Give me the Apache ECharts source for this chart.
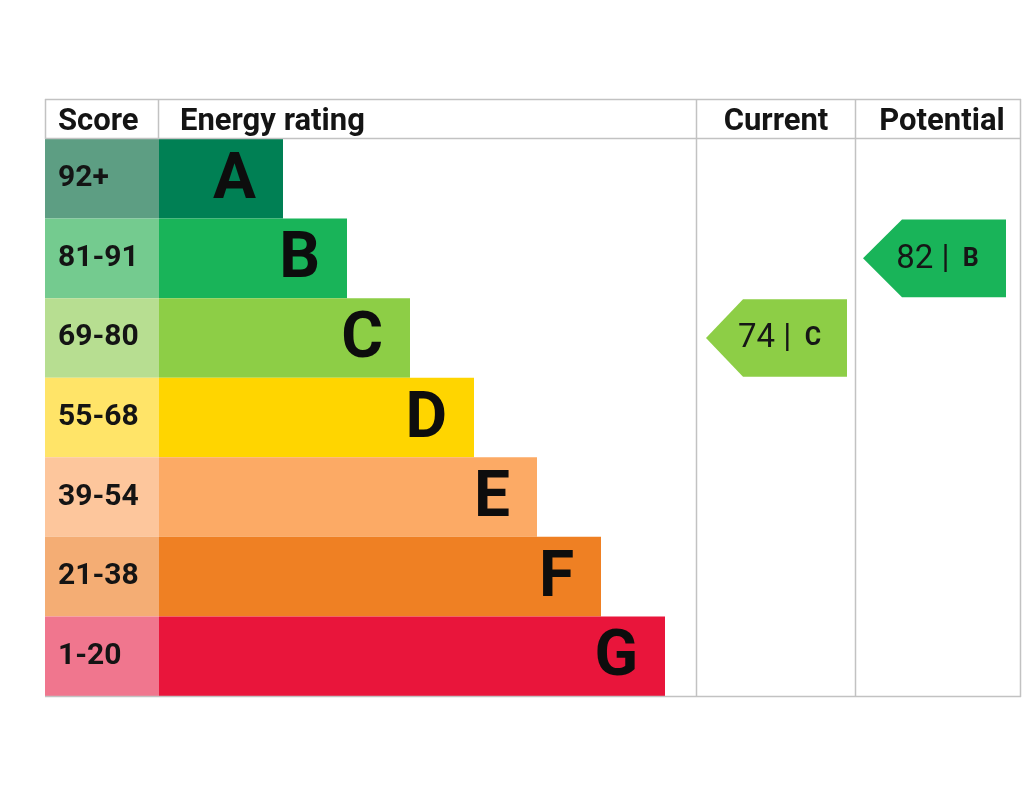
<!DOCTYPE html>
<html>
<head>
<meta charset="utf-8">
<title>Energy rating</title>
<script src="https://cdn.jsdelivr.net/npm/echarts@6/dist/echarts.min.js"></script>
<style>
    html, body { margin: 0; padding: 0; background: #ffffff; }
    #chart { width: 1024px; height: 791px; }
</style>
</head>
<body>
<div id="chart"></div>
<script>
// 数据
var bands = ['A', 'B', 'C', 'D', 'E', 'F', 'G'];
var scoreRanges = ['92+', '81-91', '69-80', '55-68', '39-54', '21-38', '1-20'];
var barLengths = [124, 188, 251, 315, 378, 442, 506];
var bandColors = ['#008054', '#19b459', '#8dce46', '#ffd500', '#fcaa65', '#ef8023', '#e9153b'];
var scoreColors = ['#5d9e83', '#74cb8f', '#b7de91', '#ffe468', '#fdc69c', '#f4ad74', '#f0768e'];
var headers = ['Score', 'Energy rating', 'Current', 'Potential'];
var currentRating = [74, 'C'];
var potentialRating = [82, 'B'];

// 布局 (x轴单位 = 像素, 原点在表格左边)
var scoreColWidth = 114;
var arrowCols = [
    {tip: 661, body: 698, right: 802},
    {tip: 818, body: 857, right: 961}
];
var fontFamily = 'Roboto, "Noto Sans", sans-serif';
var lineColor = '#c2c2c2';

var chart = echarts.init(document.getElementById('chart'));

function vline(x, y1, y2) {
    return {
        type: 'line',
        shape: {x1: x, y1: y1, x2: x, y2: y2},
        style: {stroke: lineColor, lineWidth: 1.5},
        z: 10
    };
}

function hline(y, x1, x2) {
    return {
        type: 'line',
        shape: {x1: x1, y1: y, x2: x2, y2: y},
        style: {stroke: lineColor, lineWidth: 1.5},
        z: 10
    };
}

function headerText(text, x, align) {
    return {
        type: 'text',
        x: x,
        y: 122,
        style: {
            text: text,
            fill: '#141414',
            font: 'bold 31px ' + fontFamily,
            align: align,
            verticalAlign: 'middle'
        },
        z: 10
    };
}

function renderArrow(params, api) {
    var item = arrowCols[params.dataIndex];
    var row = api.value(1);
    var color = bandColors[row];
    var tip = api.coord([item.tip, row]);
    var body = api.coord([item.body, row]);
    var right = api.coord([item.right, row]);
    var h = api.size([0, 1])[1] - 2;
    var cy = tip[1];
    var top = cy - h / 2, bottom = cy + h / 2;
    return {
        type: 'group',
        children: [
            {
                type: 'polygon',
                shape: {
                    points: [[tip[0], cy], [body[0], top], [right[0], top], [right[0], bottom], [body[0], bottom]]
                },
                style: {fill: color}
            },
            {
                type: 'text',
                x: (tip[0] + right[0]) / 2 + 3,
                y: cy + 1,
                style: {
                    text: '{n|' + api.value(2) + ' |}    {b|' + bands[row] + '}',
                    align: 'center',
                    verticalAlign: 'middle',
                    rich: {
                        n: {fontSize: 33, fontFamily: fontFamily, fill: '#161616'},
                        b: {fontSize: 25, fontWeight: 'bold', fontFamily: fontFamily, fill: '#161616'}
                    }
                }
            }
        ]
    };
}

var option = {
    animation: false,
    grid: {
        left: 45,
        top: 139,
        width: 976,
        height: 557
    },
    xAxis: {
        type: 'value',
        min: 0,
        max: 976,
        show: false
    },
    yAxis: {
        type: 'category',
        data: bands,
        inverse: true,
        show: false
    },
    graphic: [
        hline(99.5, 45, 1021),
        hline(138.5, 45, 1021),
        hline(696.5, 45, 1021),
        vline(45.5, 99, 139),
        vline(158.5, 99, 139),
        vline(696.5, 99, 697),
        vline(855.5, 99, 697),
        vline(1020.5, 99, 697),
        headerText(headers[0], 58, 'left'),
        headerText(headers[1], 180, 'left'),
        headerText(headers[2], 776, 'center'),
        headerText(headers[3], 942, 'center')
    ],
    series: [
        {
            name: 'score',
            type: 'bar',
            stack: 'rating',
            barCategoryGap: 0,
            data: bands.map(function (b, i) {
                return {value: scoreColWidth, itemStyle: {color: scoreColors[i]}};
            }),
            label: {
                show: true,
                position: 'insideLeft',
                distance: 13,
                formatter: function (p) {
                    return scoreRanges[p.dataIndex];
                },
                color: '#141414',
                fontSize: 30,
                fontWeight: 'bold',
                fontFamily: fontFamily
            },
            silent: true
        },
        {
            name: 'band',
            type: 'bar',
            stack: 'rating',
            barCategoryGap: 0,
            data: bands.map(function (b, i) {
                return {value: barLengths[i], itemStyle: {color: bandColors[i]}};
            }),
            label: {
                show: true,
                position: 'insideRight',
                distance: 27,
                offset: [0, 3],
                formatter: function (p) {
                    return bands[p.dataIndex];
                },
                color: '#0d0d0d',
                fontSize: 64,
                fontWeight: 'bold',
                fontFamily: fontFamily
            },
            silent: true
        },
        {
            name: 'rating',
            type: 'custom',
            renderItem: renderArrow,
            encode: {x: 0, y: 1},
            data: [
                [arrowCols[0].tip, bands.indexOf(currentRating[1]), currentRating[0]],
                [arrowCols[1].tip, bands.indexOf(potentialRating[1]), potentialRating[0]]
            ],
            silent: true,
            z: 5
        }
    ]
};

chart.setOption(option);
</script>
</body>
</html>
